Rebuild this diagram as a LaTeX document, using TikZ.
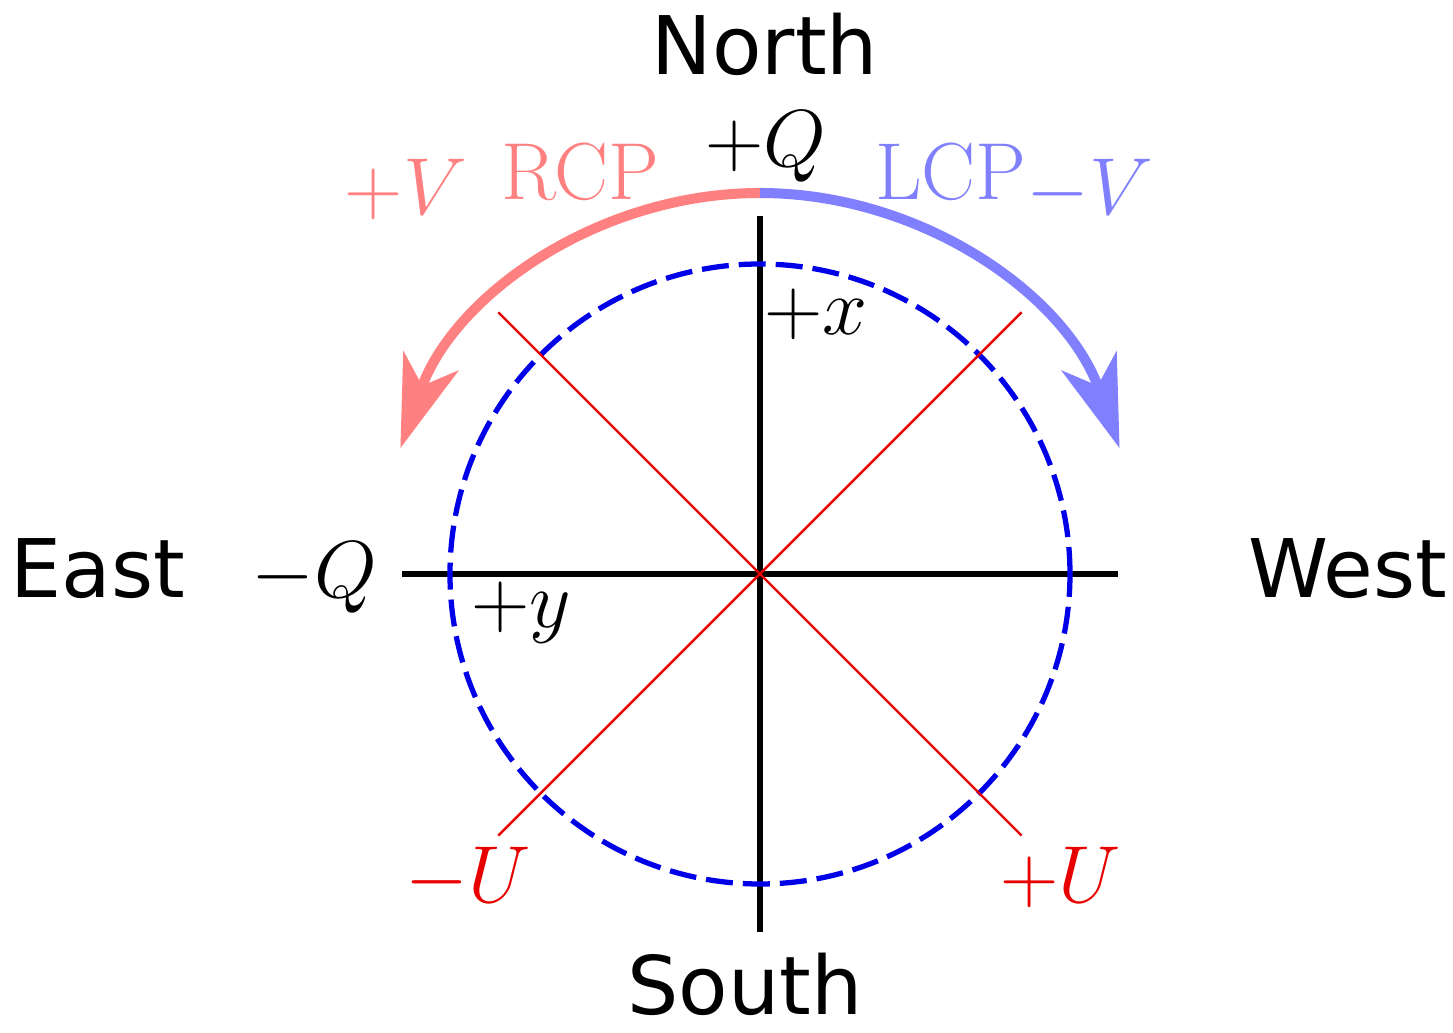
\RequirePackage{fix-cm}
\documentclass[tikz,border=0pt]{standalone}
\usepackage{fontspec}
\usetikzlibrary{arrows.meta}
\newfontfamily\dirfont{DejaVu Sans}
\definecolor{rcpred}{HTML}{FF8080}
\definecolor{lcpblue}{HTML}{8080FF}
\definecolor{ucolor}{HTML}{E80000}
\definecolor{circblue}{HTML}{0000E8}

\begin{document}
\begin{tikzpicture}[x=0.01cm, y=0.01cm,
    dirlabel/.style={font=\dirfont\fontsize{23}{28}\selectfont, anchor=base, inner sep=0pt},
    mathlabel/.style={font=\fontsize{23}{28}\selectfont, anchor=base, inner sep=0pt},
    axisline/.style={black, line width=1.45pt},
    uline/.style={ucolor, line width=0.7pt},
    handarc/.style={line width=2.85pt, -{Stealth[length=0.92cm, width=0.58cm, inset=0.26cm]}}]
    % Page size and margins of the reference
    \useasboundingbox (-760,-459) rectangle (693,574);
    \coordinate (O) at (0,0);
    % Compass directions
    \node[dirlabel] (north) at (5,499) {North};
    \node[dirlabel] (south) at (-15,-441) {South};
    \node[dirlabel] (east) at (-662,-24) {East};
    \node[dirlabel] (west) at (588,-24) {West};
    % Stokes Q axes (black)
    \draw[axisline] (-358,0) coordinate (qminus) -- (358,0) coordinate (qend);
    \draw[axisline] (0,-358) coordinate (send) -- (0,358) coordinate (qplus);
    % Dashed unit circle
    \draw[circblue, line width=1.5pt, dash pattern=on 0.27cm off 0.1cm] (O) circle (310);
    % Stokes U diagonals (red)
    \draw[uline] (135:370) coordinate (ul) -- (-45:370) coordinate (lr);
    \draw[uline] (45:370) coordinate (ur) -- (225:370) coordinate (ll);
    % Circular polarisation arcs
    \draw[handarc, rcpred] (90:381) arc[start angle=90, end angle=160.7, radius=381];
    \draw[handarc, lcpblue] (90:381) arc[start angle=90, end angle=19.3, radius=381];
    % Labels
    \node[mathlabel] (qp) at (6,407) {$+Q$};
    \node[mathlabel] (qm) at (-446,-24) {$-Q$};
    \node[mathlabel] (xp) at (56,239) {$+x$};
    \node[mathlabel] (yp) at (-239,-54) {$+y$};
    \node[mathlabel, rcpred] (vp) at (-354,359) {$+V$};
    \node[mathlabel, rcpred] (rcp) at (-180,374) {RCP};
    \node[mathlabel, lcpblue] (lcp) at (191,374) {LCP};
    \node[mathlabel, lcpblue] (vm) at (330,359) {$-V$};
    \node[mathlabel, ucolor] (um) at (-292,-329) {$-U$};
    \node[mathlabel, ucolor] (up) at (301,-329) {$+U$};
\end{tikzpicture}
\end{document}
